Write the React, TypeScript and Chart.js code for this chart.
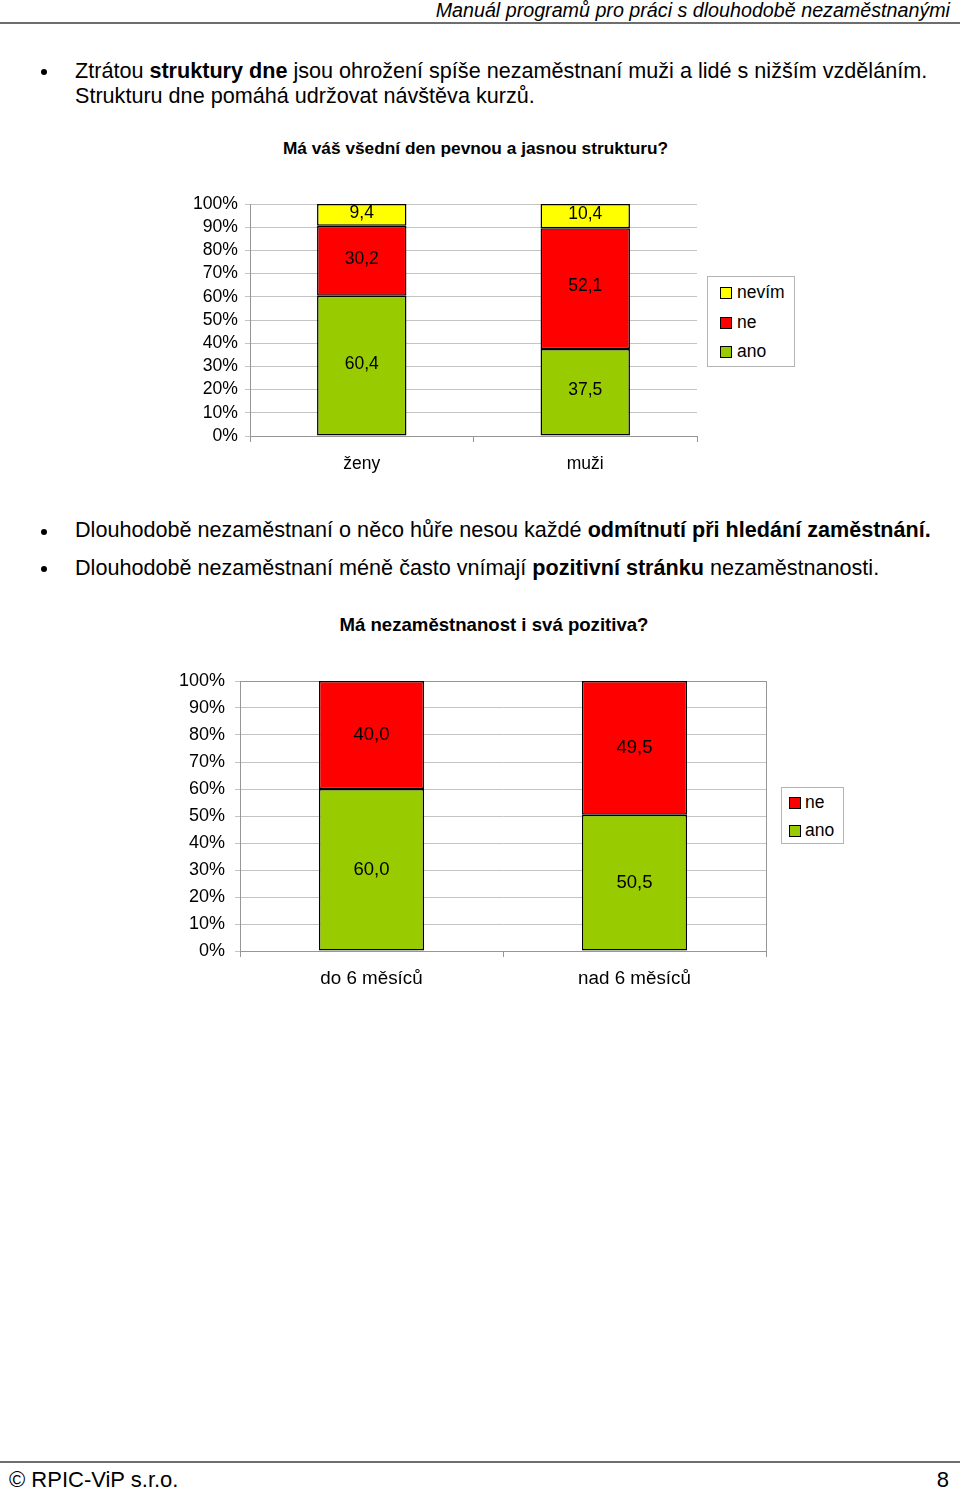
import React, { useEffect, useRef } from 'react';
import { Chart, registerables } from 'chart.js';

Chart.register(...registerables);

const FONT = "'Liberation Sans', Arial, sans-serif";

// Chart 1: Má váš všední den pevnou a jasnou strukturu?
const chart1Categories = ['ženy', 'muži'];
const chart1Ano = [60.4, 37.5];
const chart1Ne = [30.2, 52.1];
const chart1Nevim = [9.4, 10.4];

// Chart 2: Má nezaměstnanost i svá pozitiva?
const chart2Categories = ['do 6 měsíců', 'nad 6 měsíců'];
const chart2Ano = [60.0, 50.5];
const chart2Ne = [40.0, 49.5];

const seriesNames = { ano: 'ano', ne: 'ne', nevim: 'nevím' };
const COLORS = { ano: '#99CC00', ne: '#FF0000', nevim: '#FFFF00' };

const valueLabels = {
  id: 'valueLabels',
  afterDatasetsDraw(chart: any, _args: any, opts: any) {
    const ctx = chart.ctx;
    ctx.save();
    ctx.font = `${opts.size || 16}px ${FONT}`;
    ctx.fillStyle = '#000';
    ctx.textAlign = 'center';
    ctx.textBaseline = 'middle';
    chart.data.datasets.forEach((ds: any, i: number) => {
      const meta = chart.getDatasetMeta(i);
      meta.data.forEach((el: any, j: number) => {
        const v = ds.data[j];
        const p = el.getProps(['x', 'y', 'base'], true);
        ctx.fillText(Number(v).toFixed(1).replace('.', ','), p.x, (p.y + p.base) / 2 + (opts.dy || 0));
      });
    });
    ctx.restore();
  },
};

const plotBorder = {
  id: 'plotBorder',
  beforeDatasetsDraw(chart: any, _args: any, opts: any) {
    if (!opts || !opts.enabled) return;
    const { ctx, chartArea } = chart;
    ctx.save();
    ctx.strokeStyle = opts.color || '#999';
    ctx.lineWidth = 1;
    ctx.strokeRect(
      Math.round(chartArea.left) + 0.5,
      Math.round(chartArea.top) + 0.5,
      Math.round(chartArea.right - chartArea.left),
      Math.round(chartArea.bottom - chartArea.top)
    );
    ctx.restore();
  },
};

type Series = { label: string; data: number[]; color: string };

type ChartProps = {
  categories: string[];
  series: Series[];
  left: number;
  top: number;
  width: number;
  height: number;
  yAxisWidth: number;
  xAxisHeight: number;
  padTop: number;
  padRight: number;
  tickFont: number;
  catFont: number;
  valueFont: number;
  yTickPad: number;
  xTickPad: number;
  labelDy: number;
  border: boolean;
};

function StackedChart(p: ChartProps) {
  const ref = useRef<HTMLCanvasElement | null>(null);
  useEffect(() => {
    if (!ref.current) return;
    const gridColor = '#c4c4c4';
    const axisColor = '#969696';
    const chart = new Chart(ref.current, {
      type: 'bar',
      data: {
        labels: p.categories,
        datasets: p.series.map((s) => ({
          label: s.label,
          data: s.data,
          backgroundColor: s.color,
          borderColor: '#000',
          borderWidth: 1.5,
          borderSkipped: false,
          categoryPercentage: 0.4,
          barPercentage: 1,
        })),
      },
      options: {
        animation: false,
        responsive: false,
        maintainAspectRatio: false,
        devicePixelRatio: 1,
        layout: { padding: { left: 0, right: p.padRight, top: p.padTop, bottom: 0 } },
        plugins: {
          legend: { display: false },
          tooltip: { enabled: false },
          valueLabels: { size: p.valueFont, dy: p.labelDy },
          plotBorder: { enabled: p.border, color: axisColor },
        } as any,
        scales: {
          x: {
            stacked: true,
            grid: {
              offset: true,
              drawOnChartArea: false,
              drawTicks: true,
              tickLength: 6,
              color: axisColor,
            },
            border: { color: axisColor },
            ticks: { font: { family: FONT, size: p.catFont }, color: '#000', padding: p.xTickPad, maxRotation: 0 },
            afterFit: (a: any) => {
              a.height = p.xAxisHeight;
            },
          },
          y: {
            stacked: true,
            min: 0,
            max: 100,
            ticks: {
              stepSize: 10,
              autoSkip: false,
              callback: (v: any) => v + '%',
              font: { family: FONT, size: p.tickFont },
              color: '#000',
              padding: p.yTickPad,
            },
            grid: { color: gridColor, tickLength: 5 },
            border: { color: axisColor },
            afterFit: (a: any) => {
              a.width = p.yAxisWidth;
            },
          },
        },
      } as any,
      plugins: [valueLabels, plotBorder],
    });
    return () => chart.destroy();
  }, []);
  return (
    <canvas
      ref={ref}
      width={p.width}
      height={p.height}
      style={{ position: 'absolute', left: p.left, top: p.top, width: p.width, height: p.height }}
    />
  );
}

function Legend(props: {
  items: Series[];
  left: number;
  top: number;
  width: number;
  height: number;
  rowYs: number[];
  fontSize: number;
  squareLeft: number;
  textLeft: number;
}) {
  return (
    <div
      style={{
        position: 'absolute',
        left: props.left,
        top: props.top,
        width: props.width,
        height: props.height,
        border: '1px solid #b4b4b4',
        boxSizing: 'border-box',
        background: '#fff',
      }}
    >
      {props.items.map((it, i) => (
        <React.Fragment key={it.label}>
          <div
            style={{
              position: 'absolute',
              left: props.squareLeft,
              top: props.rowYs[i] - 6,
              width: 12,
              height: 12,
              background: it.color,
              border: '1px solid #000',
              boxSizing: 'border-box',
            }}
          />
          <div
            style={{
              position: 'absolute',
              left: props.textLeft,
              top: props.rowYs[i] - 12,
              lineHeight: '22px',
              fontSize: props.fontSize,
              fontFamily: FONT,
              whiteSpace: 'nowrap',
            }}
          >
            {it.label}
          </div>
        </React.Fragment>
      ))}
    </div>
  );
}

const txt = (left: number, cy: number, size: number, extra: React.CSSProperties = {}): React.CSSProperties => ({
  position: 'absolute',
  left,
  top: cy - 13,
  lineHeight: '26px',
  fontSize: size,
  fontFamily: FONT,
  whiteSpace: 'nowrap',
  color: '#000',
  ...extra,
});

const Bullet = ({ cy }: { cy: number }) => (
  <div
    style={{
      position: 'absolute',
      left: 41,
      top: cy - 3,
      width: 6,
      height: 6,
      borderRadius: 3,
      background: '#000',
    }}
  />
);

export default function App() {
  const s1: Series[] = [
    { label: seriesNames.ano, data: chart1Ano, color: COLORS.ano },
    { label: seriesNames.ne, data: chart1Ne, color: COLORS.ne },
    { label: seriesNames.nevim, data: chart1Nevim, color: COLORS.nevim },
  ];
  const s2: Series[] = [
    { label: seriesNames.ano, data: chart2Ano, color: COLORS.ano },
    { label: seriesNames.ne, data: chart2Ne, color: COLORS.ne },
  ];
  return (
    <div
      style={{
        position: 'absolute',
        left: 0,
        top: 0,
        width: 960,
        height: 1489,
        background: '#fff',
        overflow: 'hidden',
      }}
    >
      {/* header */}
      <div style={txt(0, 10, 19.7, { left: 'auto', right: 10, fontStyle: 'italic' })}>
        Manuál programů pro práci s dlouhodobě nezaměstnanými
      </div>
      <div style={{ position: 'absolute', left: 0, top: 22, width: 960, height: 2, background: '#6e6e6e' }} />

      {/* bullet 1 */}
      <Bullet cy={72} />
      <div style={{ ...txt(75, 70, 21.6), lineHeight: '25px', top: 70 - 12.5 }}>
        Ztrátou <b>struktury dne</b> jsou ohrožení spíše nezaměstnaní muži a lidé s nižším vzděláním.
        <br />
        Strukturu dne pomáhá udržovat návštěva kurzů.
      </div>

      {/* chart 1 title */}
      <div style={txt(175.5, 148, 17.3, { width: 600, textAlign: 'center', fontWeight: 'bold' })}>
        Má váš všední den pevnou a jasnou strukturu?
      </div>

      <StackedChart
        categories={chart1Categories}
        series={s1}
        left={180}
        top={180}
        width={540}
        height={300}
        yAxisWidth={70}
        xAxisHeight={44}
        padTop={24}
        padRight={23}
        tickFont={17.6}
        catFont={17.5}
        valueFont={17.5}
        yTickPad={7}
        xTickPad={12}
        labelDy={-2}
        border={false}
      />
      <Legend
        items={[...s1].reverse()}
        left={707}
        top={276}
        width={88}
        height={91}
        rowYs={[15.5, 45.5, 75]}
        fontSize={17.5}
        squareLeft={12}
        textLeft={29}
      />

      {/* bullets 2, 3 */}
      <Bullet cy={532} />
      <div style={txt(75, 530, 21.6)}>
        Dlouhodobě nezaměstnaní o něco hůře nesou každé <b>odmítnutí při hledání zaměstnání.</b>
      </div>
      <Bullet cy={569} />
      <div style={txt(75, 568, 21.6)}>
        Dlouhodobě nezaměstnaní méně často vnímají <b>pozitivní stránku</b> nezaměstnanosti.
      </div>

      {/* chart 2 title */}
      <div style={txt(194, 625, 18.6, { width: 600, textAlign: 'center', fontWeight: 'bold' })}>
        Má nezaměstnanost i svá pozitiva?
      </div>

      <StackedChart
        categories={chart2Categories}
        series={s2}
        left={160}
        top={655}
        width={620}
        height={350}
        yAxisWidth={80}
        xAxisHeight={54}
        padTop={26}
        padRight={14}
        tickFont={18}
        catFont={18.8}
        valueFont={18.5}
        yTickPad={10}
        xTickPad={11}
        labelDy={0}
        border={true}
      />
      <Legend
        items={[...s2].reverse()}
        left={781}
        top={787}
        width={63}
        height={57}
        rowYs={[15, 43]}
        fontSize={17.5}
        squareLeft={7}
        textLeft={23}
      />

      {/* footer */}
      <div style={{ position: 'absolute', left: 0, top: 1461, width: 960, height: 2, background: '#6e6e6e' }} />
      <div style={txt(9, 1480, 22)}>© RPIC-ViP s.r.o.</div>
      <div style={txt(0, 1480, 22, { left: 'auto', right: 11 })}>8</div>
    </div>
  );
}
